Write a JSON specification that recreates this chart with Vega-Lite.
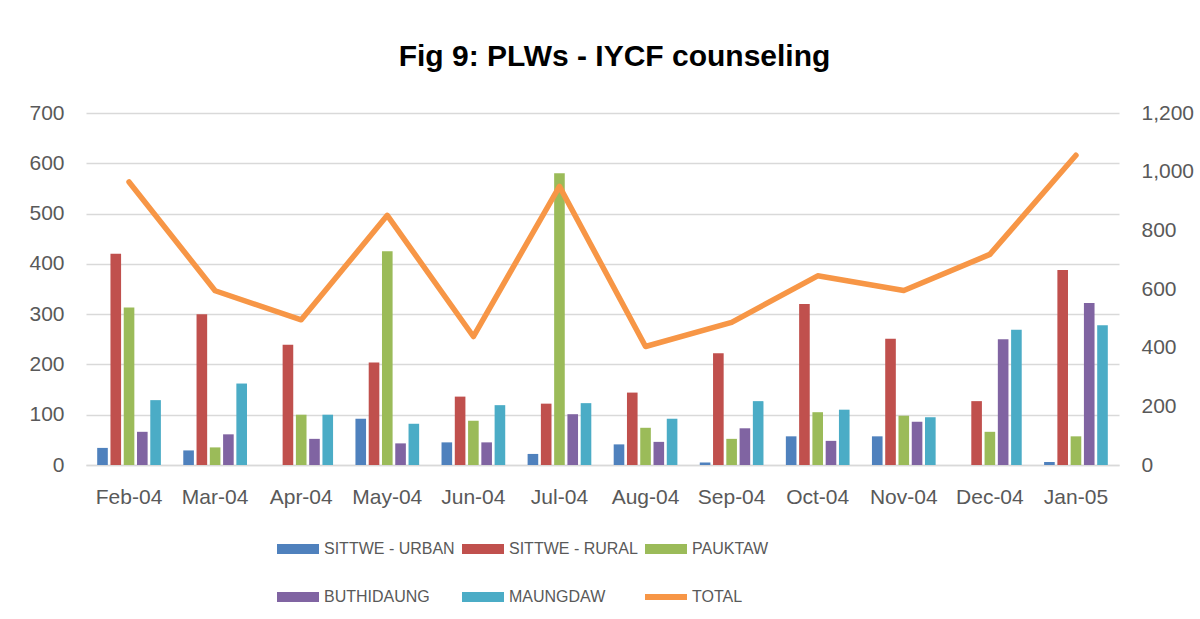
{
  "$schema": "https://vega.github.io/schema/vega-lite/v6.json",
  "width": 1033,
  "height": 352,
  "autosize": {"type": "none"},
  "padding": {"left": 86, "top": 113, "right": 81, "bottom": 154},
  "background": "white",
  "title": {
    "text": "Fig 9: PLWs - IYCF counseling",
    "font": "Liberation Sans",
    "fontSize": 30,
    "fontWeight": "bold",
    "color": "#000000",
    "anchor": "middle",
    "frame": "group",
    "baseline": "alphabetic",
    "offset": 6,
    "dx": 12
  },
  "config": {
    "view": {"stroke": null},
    "axis": {
      "labelFont": "Liberation Sans",
      "labelFontSize": 21,
      "labelColor": "#595959",
      "ticks": false,
      "domain": false,
      "grid": false,
      "title": null
    },
    "legend": {
      "labelFont": "Liberation Sans",
      "labelFontSize": 16,
      "labelColor": "#595959"
    }
  },
  "datasets": {
    "bars": [
      {"month": "Feb-04", "series": "SITTWE - URBAN", "value": 34},
      {"month": "Feb-04", "series": "SITTWE - RURAL", "value": 420},
      {"month": "Feb-04", "series": "PAUKTAW", "value": 313},
      {"month": "Feb-04", "series": "BUTHIDAUNG", "value": 66},
      {"month": "Feb-04", "series": "MAUNGDAW", "value": 129},
      {"month": "Mar-04", "series": "SITTWE - URBAN", "value": 29},
      {"month": "Mar-04", "series": "SITTWE - RURAL", "value": 300},
      {"month": "Mar-04", "series": "PAUKTAW", "value": 35},
      {"month": "Mar-04", "series": "BUTHIDAUNG", "value": 61},
      {"month": "Mar-04", "series": "MAUNGDAW", "value": 162},
      {"month": "Apr-04", "series": "SITTWE - URBAN", "value": 0},
      {"month": "Apr-04", "series": "SITTWE - RURAL", "value": 239},
      {"month": "Apr-04", "series": "PAUKTAW", "value": 100},
      {"month": "Apr-04", "series": "BUTHIDAUNG", "value": 52},
      {"month": "Apr-04", "series": "MAUNGDAW", "value": 100},
      {"month": "May-04", "series": "SITTWE - URBAN", "value": 92},
      {"month": "May-04", "series": "SITTWE - RURAL", "value": 204},
      {"month": "May-04", "series": "PAUKTAW", "value": 425},
      {"month": "May-04", "series": "BUTHIDAUNG", "value": 43},
      {"month": "May-04", "series": "MAUNGDAW", "value": 82},
      {"month": "Jun-04", "series": "SITTWE - URBAN", "value": 45},
      {"month": "Jun-04", "series": "SITTWE - RURAL", "value": 136},
      {"month": "Jun-04", "series": "PAUKTAW", "value": 88},
      {"month": "Jun-04", "series": "BUTHIDAUNG", "value": 45},
      {"month": "Jun-04", "series": "MAUNGDAW", "value": 119},
      {"month": "Jul-04", "series": "SITTWE - URBAN", "value": 22},
      {"month": "Jul-04", "series": "SITTWE - RURAL", "value": 122},
      {"month": "Jul-04", "series": "PAUKTAW", "value": 580},
      {"month": "Jul-04", "series": "BUTHIDAUNG", "value": 101},
      {"month": "Jul-04", "series": "MAUNGDAW", "value": 123},
      {"month": "Aug-04", "series": "SITTWE - URBAN", "value": 41},
      {"month": "Aug-04", "series": "SITTWE - RURAL", "value": 144},
      {"month": "Aug-04", "series": "PAUKTAW", "value": 74},
      {"month": "Aug-04", "series": "BUTHIDAUNG", "value": 46},
      {"month": "Aug-04", "series": "MAUNGDAW", "value": 92},
      {"month": "Sep-04", "series": "SITTWE - URBAN", "value": 5},
      {"month": "Sep-04", "series": "SITTWE - RURAL", "value": 222},
      {"month": "Sep-04", "series": "PAUKTAW", "value": 52},
      {"month": "Sep-04", "series": "BUTHIDAUNG", "value": 73},
      {"month": "Sep-04", "series": "MAUNGDAW", "value": 127},
      {"month": "Oct-04", "series": "SITTWE - URBAN", "value": 57},
      {"month": "Oct-04", "series": "SITTWE - RURAL", "value": 320},
      {"month": "Oct-04", "series": "PAUKTAW", "value": 105},
      {"month": "Oct-04", "series": "BUTHIDAUNG", "value": 48},
      {"month": "Oct-04", "series": "MAUNGDAW", "value": 110},
      {"month": "Nov-04", "series": "SITTWE - URBAN", "value": 57},
      {"month": "Nov-04", "series": "SITTWE - RURAL", "value": 251},
      {"month": "Nov-04", "series": "PAUKTAW", "value": 98},
      {"month": "Nov-04", "series": "BUTHIDAUNG", "value": 86},
      {"month": "Nov-04", "series": "MAUNGDAW", "value": 95},
      {"month": "Dec-04", "series": "SITTWE - URBAN", "value": 0},
      {"month": "Dec-04", "series": "SITTWE - RURAL", "value": 127},
      {"month": "Dec-04", "series": "PAUKTAW", "value": 66},
      {"month": "Dec-04", "series": "BUTHIDAUNG", "value": 250},
      {"month": "Dec-04", "series": "MAUNGDAW", "value": 269},
      {"month": "Jan-05", "series": "SITTWE - URBAN", "value": 6},
      {"month": "Jan-05", "series": "SITTWE - RURAL", "value": 388},
      {"month": "Jan-05", "series": "PAUKTAW", "value": 57},
      {"month": "Jan-05", "series": "BUTHIDAUNG", "value": 322},
      {"month": "Jan-05", "series": "MAUNGDAW", "value": 278}
    ],
    "totals": [
      {"month": "Feb-04", "total": 965},
      {"month": "Mar-04", "total": 594},
      {"month": "Apr-04", "total": 495},
      {"month": "May-04", "total": 851},
      {"month": "Jun-04", "total": 438},
      {"month": "Jul-04", "total": 950},
      {"month": "Aug-04", "total": 404},
      {"month": "Sep-04", "total": 486},
      {"month": "Oct-04", "total": 645},
      {"month": "Nov-04", "total": 595},
      {"month": "Dec-04", "total": 718},
      {"month": "Jan-05", "total": 1056}
    ]
  },
  "resolve": {"scale": {"y": "independent"}},
  "layer": [
    {
      "data": {"name": "bars"},
      "mark": {"type": "bar"},
      "encoding": {
        "x": {
          "field": "month",
          "type": "nominal",
          "sort": ["Feb-04", "Mar-04", "Apr-04", "May-04", "Jun-04", "Jul-04", "Aug-04", "Sep-04", "Oct-04", "Nov-04", "Dec-04", "Jan-05"],
          "scale": {"paddingInner": 0.26, "paddingOuter": 0.13},
          "axis": {
            "labelAngle": 0,
            "labelPadding": 21,
            "domain": true,
            "domainColor": "#D9D9D9",
            "domainWidth": 1.3
          }
        },
        "xOffset": {
          "field": "series",
          "type": "nominal",
          "sort": ["SITTWE - URBAN", "SITTWE - RURAL", "PAUKTAW", "BUTHIDAUNG", "MAUNGDAW"],
          "scale": {"paddingInner": 0.2, "paddingOuter": 0}
        },
        "y": {
          "field": "value",
          "type": "quantitative",
          "scale": {"domain": [0, 700], "nice": false},
          "axis": {
            "orient": "left",
            "values": [0, 100, 200, 300, 400, 500, 600, 700],
            "grid": true,
            "gridColor": "#D9D9D9",
            "gridWidth": 1.3,
            "labelPadding": 22
          }
        },
        "color": {
          "field": "series",
          "type": "nominal",
          "scale": {
            "domain": ["SITTWE - URBAN", "SITTWE - RURAL", "PAUKTAW", "BUTHIDAUNG", "MAUNGDAW", "TOTAL"],
            "range": ["#4F81BD", "#C0504D", "#9BBB59", "#8064A2", "#4BACC6", "#F79646"]
          },
          "legend": {
            "orient": "none",
            "legendX": 191,
            "legendY": 415,
            "direction": "horizontal",
            "columns": 3,
            "title": null,
            "padding": 0,
            "symbolType": "M-1,-0.238H1V0.238H-1Z",
            "symbolSize": 1764,
            "symbolStrokeWidth": 0,
            "symbolOpacity": 1,
            "labelOffset": 5,
            "columnPadding": 7,
            "rowPadding": 19,
            "gridAlign": "each",
            "encode": {
              "symbols": {
                "update": {
                  "shape": {"signal": "datum.value === 'TOTAL' ? 'M-1,-0.14H1V0.14H-1Z' : 'M-1,-0.238H1V0.238H-1Z'"}
                }
              }
            }
          }
        }
      }
    },
    {
      "data": {"name": "totals"},
      "mark": {"type": "line", "color": "#F79646", "strokeWidth": 5.5, "strokeCap": "round", "strokeJoin": "round"},
      "encoding": {
        "x": {
          "field": "month",
          "type": "nominal",
          "sort": ["Feb-04", "Mar-04", "Apr-04", "May-04", "Jun-04", "Jul-04", "Aug-04", "Sep-04", "Oct-04", "Nov-04", "Dec-04", "Jan-05"]
        },
        "y": {
          "field": "total",
          "type": "quantitative",
          "scale": {"domain": [0, 1200], "nice": false},
          "axis": {
            "orient": "right",
            "values": [0, 200, 400, 600, 800, 1000, 1200],
            "format": ",.0f",
            "labelPadding": 22
          }
        }
      }
    }
  ]
}
